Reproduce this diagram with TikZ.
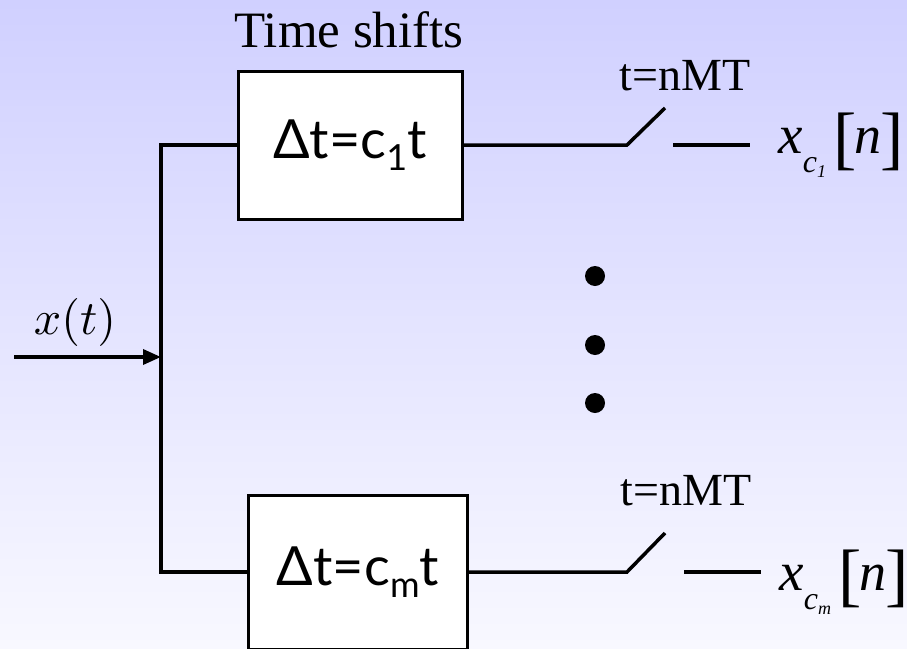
\documentclass[tikz,border=0pt]{standalone}
\usepackage{fontspec}
\setmainfont{Liberation Serif}
\newfontfamily\boxfont{Lato}
\usetikzlibrary{arrows.meta, positioning}

% sampled output label x_{c_k}[n]
\newcommand{\sampled}[1]{%
  {\fontsize{55}{55}\selectfont\itshape x}%
  \raisebox{-19pt}{\fontsize{32}{32}\selectfont\itshape c\raisebox{-5pt}{\fontsize{18}{18}\selectfont #1}}%
  \hspace{7pt}\raisebox{-8pt}{\fontsize{70}{70}\selectfont[}\hspace{-2pt}%
  {\fontsize{54}{54}\selectfont\itshape n}\hspace{-1pt}%
  \raisebox{-8pt}{\fontsize{70}{70}\selectfont]}}

\begin{document}
\begin{tikzpicture}[
  x=1pt, y=-1pt,
  delay/.style={rectangle, draw, line width=3pt, fill=white, inner sep=0pt,
                font=\boxfont\fontsize{54}{54}\selectfont},
  wire/.style={line width=3.5pt},
  arrow/.style={wire, -{Triangle[length=18pt, width=15pt]}},
  dot/.style={circle, fill=black, minimum size=20pt, inner sep=0pt},
  clock/.style={anchor=base, font=\fontsize{46}{46}\selectfont},
]
  \shade[top color={rgb,255:red,208;green,208;blue,255},
         bottom color={rgb,255:red,248;green,248;blue,255}]
    (0,0) rectangle (907,648);
  \path[use as bounding box] (0,0) rectangle (907,648);
  \clip (0,0) rectangle (907,648);

  \node[anchor=base, font=\fontsize{51}{51}\selectfont] (title) at (349,47) {Time shifts};

  \node[delay, minimum width=224pt, minimum height=148pt] (box1) at (350,145)
    {Δt=c\raisebox{-12pt}{\fontsize{36}{36}\selectfont 1}t};
  \node[delay, minimum width=219pt, minimum height=154pt] (boxm) at (358,572)
    {Δt=c\raisebox{-12pt}{\fontsize{36}{36}\selectfont m}t};

  % splitter and input
  \coordinate (splitm) at (161,572);
  \coordinate (in) at (14,357);
  \draw[wire] (box1.west) -| (splitm) -- (boxm.west);
  \draw[arrow] (in) -- (in -| splitm);
  \node (xt) at (75,322) {\scalebox{4.8}{$x(t)$}};

  % upper branch sampler
  \coordinate (sw1) at (627,145);
  \coordinate (sw1top) at (665,108);
  \coordinate (o1a) at (673,145);
  \coordinate (o1b) at (750,145);
  \draw[wire] (box1.east) -- (sw1) -- (sw1top);
  \draw[wire] (o1a) -- (o1b);
  \node[clock] (t1) at (685,90) {t=nMT};
  \node[anchor=base west] (x1) at (775,153) {\sampled{1}};

  % lower branch sampler
  \coordinate (swm) at (627,572);
  \coordinate (swmtop) at (665,533);
  \coordinate (oma) at (684,572);
  \coordinate (omb) at (761,572);
  \draw[wire] (boxm.east) -- (swm) -- (swmtop);
  \draw[wire] (oma) -- (omb);
  \node[clock] (tm) at (686,505) {t=nMT};
  \node[anchor=base west] (xm) at (776,590) {\sampled{\itshape m}};

  \foreach \y/\n in {276/1, 345/2, 403/3}
    \node[dot] (dot\n) at (595,\y) {};
\end{tikzpicture}
\end{document}
